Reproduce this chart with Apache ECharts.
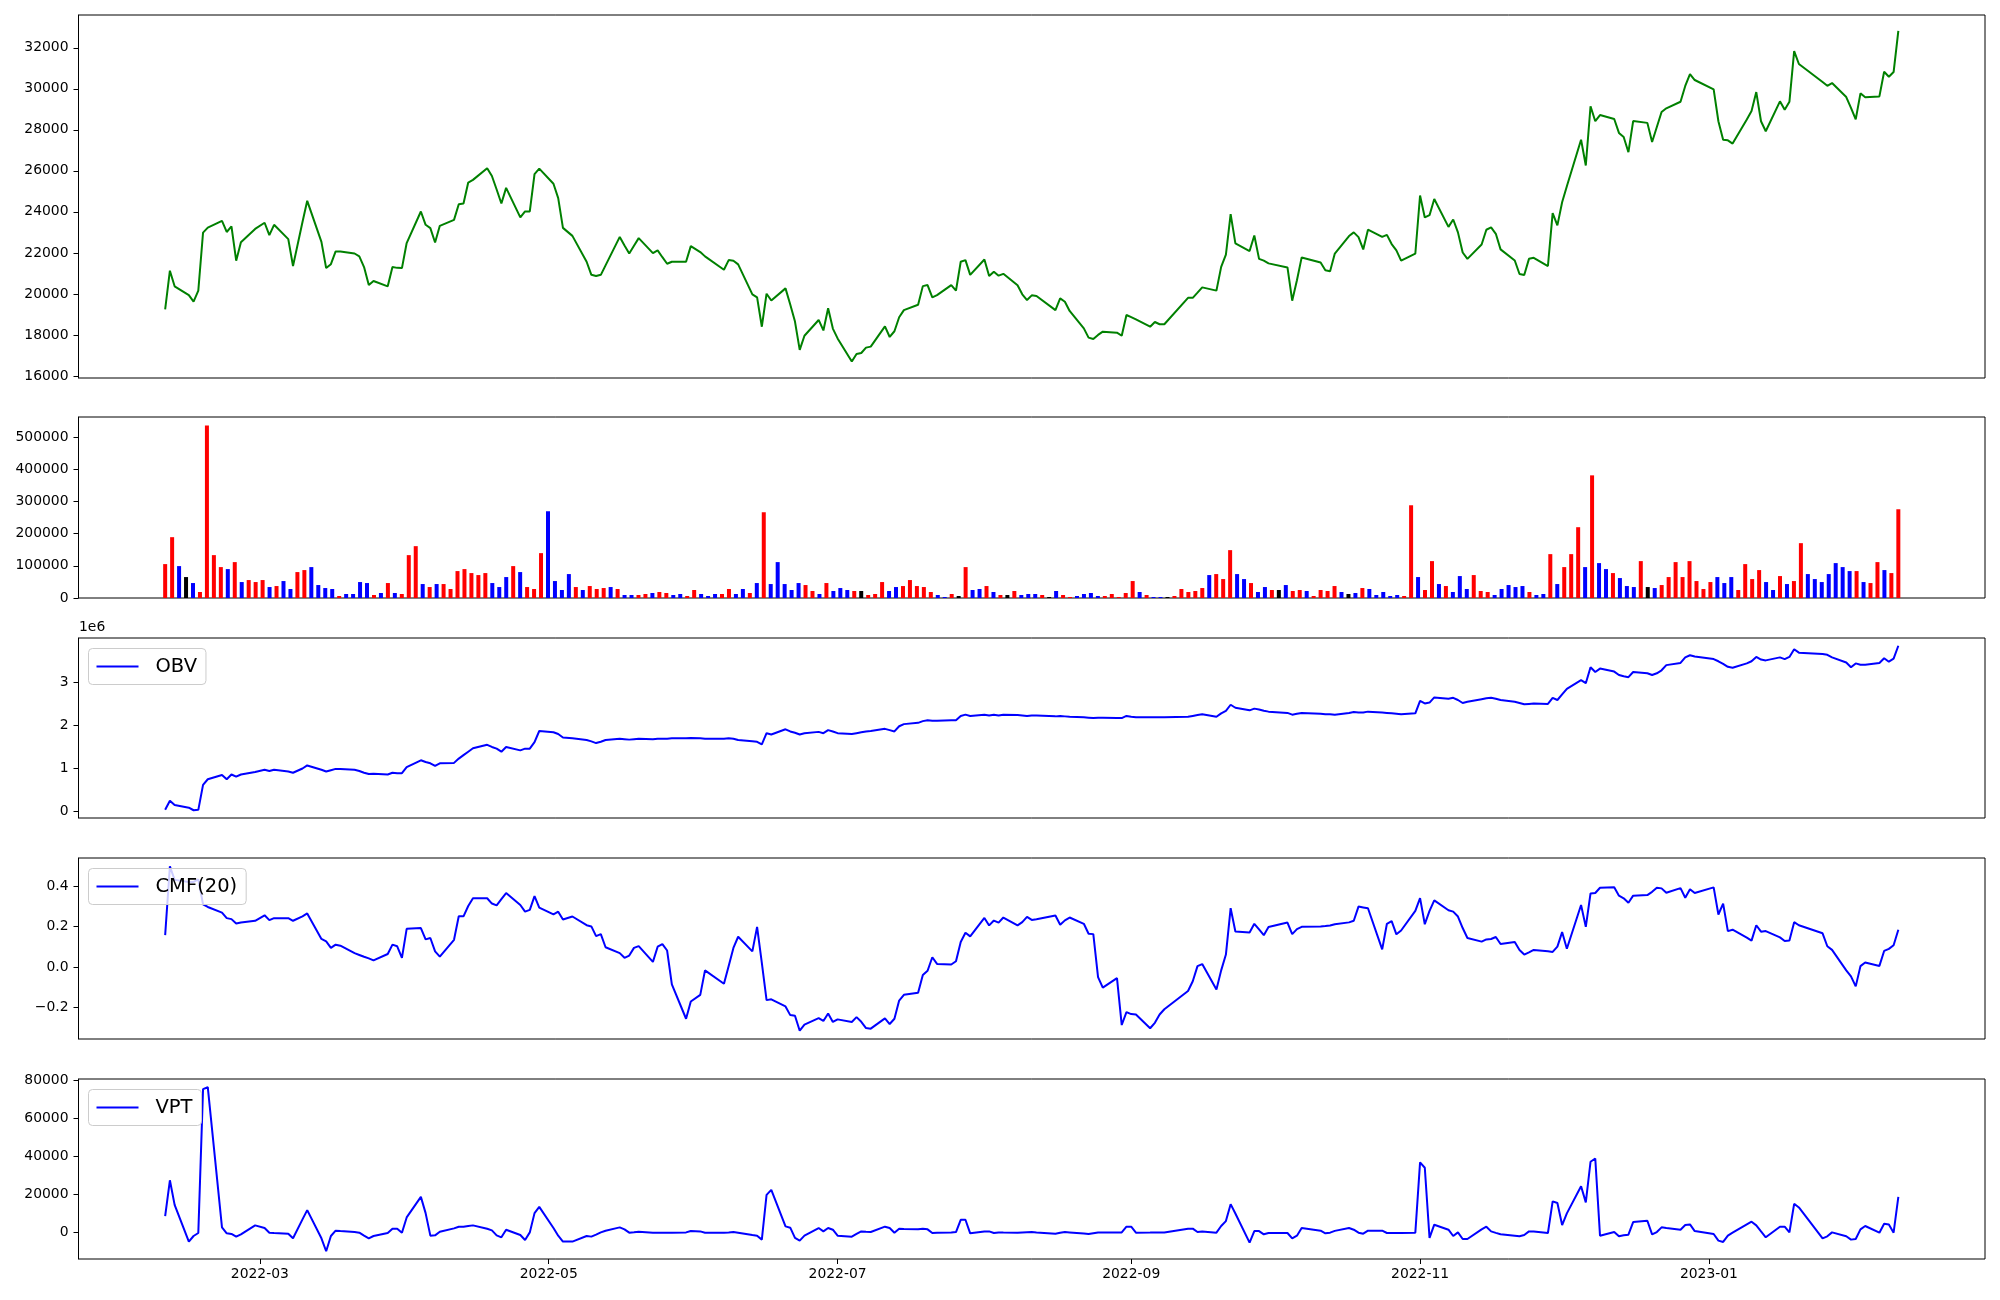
<!DOCTYPE html>
<html><head><meta charset="utf-8">
<script src="https://cdn.jsdelivr.net/npm/echarts@6/dist/echarts.min.js"></script>
<style>html,body{margin:0;padding:0;background:#fff}#c{width:2000px;height:1300px}</style>
</head><body><div id="c"></div>
<script>
// ---------- data ----------
const startDate = '2022-02-09', endDate = '2023-02-10';
const holidays = ['2022-03-01','2022-03-09','2022-05-05','2022-06-01','2022-06-06','2022-08-15',
  '2022-09-09','2022-09-12','2022-10-03','2022-10-10','2022-12-30','2023-01-23','2023-01-24'];

const close = [
19250,21130,20370,19940,19620,20160,22990,23230,23560,23020,
23290,21620,22520,23170,23470,22870,23370,22670,21360,23510,
24540,22540,21260,21450,22070,22070,21970,21830,21310,20430,
20630,20370,21310,21270,21260,22480,24020,23370,23210,22510,
23320,23610,24370,24410,25430,25560,26130,25750,25090,24410,
25170,23730,24020,24020,25840,26110,25370,24670,23220,22830,
21570,20930,20870,20930,21390,22780,22360,21970,22350,22720,
21990,22120,21790,21470,21570,21570,22330,22040,21830,21180,
21650,21620,21440,19980,19830,18400,20010,19680,20270,19480,
18650,17270,17960,18730,18220,19300,18310,17830,16700,17070,
17120,17380,17430,18420,17900,18180,18860,19210,19470,20380,
20430,19830,19940,20430,20160,21570,21650,20930,21680,20870,
21080,20890,20980,20420,19980,19700,19930,19900,19210,19780,
19620,19170,18320,17870,17800,18000,18160,18110,17960,18970,
18870,18760,18400,18630,18520,18520,19810,19810,20060,20320,
20160,21320,21920,23890,22460,22090,22850,21710,21620,21490,
21290,19670,20670,21780,21530,21150,21110,21970,22820,23000,
22770,22170,23130,22780,22880,22430,22120,21620,21960,24800,
23730,23840,24630,23270,23630,23000,22020,21710,22410,23130,
23240,22930,22170,21630,20970,20920,21710,21760,21360,23940,
23340,24470,25250,27520,26260,29150,28420,28720,28530,27850,
27650,26910,28430,28340,27410,28140,28870,29050,29370,30140,
30720,30430,29970,28420,27520,27490,27330,28510,28920,29840,
28420,27930,29390,28980,29370,31840,31210,30330,30150,30280,
29600,29070,28510,29780,29590,29630,30830,30590,30820,32830];

const volume = [
105264,188856,99072,65016,46440,18576,535600,133128,95976,89784,
111456,49536,55728,49536,55728,34056,37152,52632,27864,80496,
86688,95976,40248,30960,27864,6192,12384,12384,49536,46440,
9288,15480,46440,15480,12384,133128,160992,43344,34056,43344,
43344,27864,83592,89784,77400,71208,77400,46440,34056,65016,
99072,80496,34056,27864,139320,269352,52632,24768,74304,34056,
24768,37152,27864,30960,34056,27864,9288,9288,9288,12384,
15480,18576,15480,9288,12384,6192,24768,12384,6192,12384,
12384,27864,12384,27864,15480,46440,266256,43344,111456,43344,
24768,46440,40248,21672,12384,46440,21672,30960,24768,21672,
21672,9288,12384,49536,21672,34056,37152,55728,37152,34056,
18576,9288,3096,12384,6192,95976,24768,27864,37152,18576,
9288,9288,21672,9288,12384,12384,9288,3096,21672,9288,
3096,6192,12384,15480,6192,6192,12384,3096,15480,52632,
18576,9288,3096,3096,3096,6192,27864,18576,21672,30960,
71208,74304,58824,148608,74304,58824,46440,18576,34056,24768,
24768,40248,21672,24768,21672,6192,24768,21672,37152,18576,
12384,15480,30960,27864,9288,18576,6192,9288,6192,287928,
65016,24768,114552,43344,37152,18576,68112,27864,71208,21672,
18576,9288,27864,40248,34056,37152,18576,9288,12384,136224,
43344,95976,136224,219816,95976,380808,108360,89784,77400,61920,
37152,34056,114552,34056,30960,40248,65016,111456,65016,114552,
52632,27864,49536,65016,46440,65016,24768,105264,58824,86688,
49536,24768,68112,43344,52632,170280,74304,58824,49536,74304,
108360,95976,83592,83592,49536,46440,111456,86688,77400,275544];

// bar colour per day: r = red, b = blue, k = black
const volDir = (
'rrbkbrrrrb'+'rbrrrbrbbr'+'rbbbbrbbbb'+'rbrbrrrbrb'+'rrrrrrrbbb'+
'rbrrrbbbbr'+'brrrbrbbrr'+'brrbbrrbbb'+'rrbbrbrbbb'+'bbrrbrbbbr'+
'krrrbbrrrr'+'rbbrkrbbrb'+'rkrbbbrkbr'+'rbbbbrrrrr'+'brbbkrrrrr'+
'brrrbbrbbr'+'kbrrbrrrrb'+'kbrbbbbbrr'+'brrbrbbbrr'+'rbbbbbrbbr'+
'brrrbrbbrb'+'bbrkbrrrrr'+'rrrbbbrrrr'+'bbrbrrbbbb'+'bbbrbrrbrr').split('');

const obv = [
40000,250000,150000,90000,30000,40000,620000,750000,850000,750000,
860000,810000,860000,920000,970000,940000,970000,930000,900000,1000000,
1070000,970000,930000,960000,990000,990000,970000,940000,900000,870000,
880000,860000,900000,890000,890000,1030000,1190000,1150000,1120000,1060000,
1120000,1130000,1230000,1310000,1390000,1470000,1550000,1500000,1460000,1390000,
1500000,1420000,1460000,1460000,1610000,1870000,1840000,1800000,1720000,1700000,
1660000,1630000,1590000,1620000,1660000,1690000,1680000,1670000,1680000,1690000,
1680000,1690000,1690000,1690000,1700000,1700000,1710000,1700000,1690000,1690000,
1700000,1690000,1660000,1630000,1620000,1560000,1820000,1790000,1910000,1860000,
1830000,1790000,1820000,1850000,1820000,1890000,1860000,1820000,1800000,1820000,
1840000,1860000,1870000,1920000,1890000,1860000,1980000,2030000,2060000,2100000,
2120000,2110000,2110000,2120000,2120000,2220000,2250000,2220000,2250000,2230000,
2250000,2230000,2250000,2240000,2230000,2220000,2230000,2230000,2210000,2220000,
2210000,2200000,2190000,2180000,2170000,2180000,2180000,2170000,2170000,2220000,
2200000,2190000,2190000,2190000,2190000,2190000,2200000,2220000,2240000,2260000,
2200000,2280000,2340000,2480000,2410000,2350000,2390000,2370000,2340000,2320000,
2290000,2250000,2270000,2290000,2270000,2260000,2260000,2250000,2290000,2310000,
2300000,2300000,2320000,2300000,2290000,2280000,2270000,2260000,2280000,2570000,
2510000,2530000,2650000,2620000,2640000,2590000,2520000,2550000,2610000,2630000,
2640000,2620000,2590000,2550000,2520000,2490000,2500000,2510000,2500000,2640000,
2590000,2720000,2850000,3050000,2980000,3350000,3240000,3320000,3250000,3170000,
3140000,3120000,3240000,3210000,3170000,3210000,3280000,3400000,3450000,3580000,
3630000,3600000,3540000,3490000,3430000,3360000,3340000,3440000,3490000,3590000,
3530000,3510000,3580000,3540000,3590000,3770000,3690000,3660000,3640000,3580000,
3460000,3350000,3440000,3410000,3410000,3450000,3560000,3480000,3550000,3850000];

const cmf = [
0.157,0.497,0.430,0.420,0.420,0.432,0.309,0.296,0.268,0.241,
0.236,0.214,0.219,0.228,0.255,0.231,0.241,0.241,0.228,0.250,
0.264,0.138,0.126,0.094,0.110,0.105,0.068,0.059,0.050,0.042,
0.032,0.064,0.110,0.102,0.045,0.188,0.192,0.136,0.143,0.077,
0.051,0.134,0.250,0.250,0.301,0.339,0.339,0.313,0.304,0.335,
0.365,0.306,0.273,0.282,0.350,0.293,0.260,0.273,0.234,0.249,
0.206,0.200,0.152,0.162,0.097,0.068,0.045,0.056,0.094,0.103,
0.025,0.100,0.113,0.081,-0.086,-0.256,-0.171,-0.138,-0.017,-0.083,
0.005,0.094,0.149,0.077,0.198,0.020,-0.164,-0.160,-0.195,-0.238,
-0.241,-0.315,-0.285,-0.253,-0.267,-0.230,-0.272,-0.259,-0.272,-0.248,
-0.271,-0.302,-0.305,-0.254,-0.282,-0.256,-0.166,-0.138,-0.128,-0.040,
-0.019,0.048,0.015,0.012,0.028,0.123,0.169,0.151,0.242,0.205,
0.229,0.219,0.244,0.205,0.221,0.247,0.232,0.236,0.254,0.208,
0.230,0.244,0.213,0.164,0.162,-0.050,-0.102,-0.055,-0.287,-0.223,
-0.233,-0.235,-0.303,-0.276,-0.235,-0.209,-0.119,-0.071,0.004,0.014,
-0.112,-0.017,0.061,0.290,0.175,0.170,0.213,0.185,0.157,0.197,
0.219,0.162,0.187,0.198,0.200,0.202,0.205,0.211,0.220,0.228,
0.298,0.294,0.290,0.087,0.213,0.226,0.161,0.180,0.277,0.340,
0.211,0.277,0.329,0.280,0.273,0.249,0.192,0.143,0.125,0.136,
0.138,0.148,0.113,0.123,0.084,0.061,0.072,0.084,0.077,0.074,
0.100,0.172,0.090,0.306,0.198,0.363,0.365,0.391,0.393,0.352,
0.339,0.317,0.352,0.355,0.371,0.391,0.388,0.366,0.389,0.342,
0.384,0.365,0.393,0.259,0.313,0.177,0.184,0.145,0.130,0.206,
0.174,0.177,0.146,0.128,0.130,0.221,0.206,0.166,0.102,0.084,
-0.017,-0.047,-0.096,0.004,0.022,0.005,0.079,0.089,0.107,0.184];

const vpt = [
8570,27400,14500,-4840,-1900,-320,75340,76380,2650,-490,
-840,-2230,-1010,3690,2300,-150,-320,-670,-3110,6830,
11700,-3110,-9910,-1900,890,700,190,-150,-1720,-3110,
-1900,-320,1950,1950,-150,7870,18680,10140,-1720,-1550,
370,2120,3000,3000,3400,3690,1950,1080,-1550,-2590,
1420,-1370,-3980,0,10140,13450,2300,-1720,-4840,-4840,
-1900,-2230,-1190,0,890,2650,1600,-150,100,370,
-150,-150,-150,-150,-150,0,700,520,-150,-150,
0,190,-150,-1370,-1720,-3810,19730,22340,3180,2480,
-2920,-4320,-1720,2300,520,2300,1420,-1720,-2230,-800,
520,350,190,3000,2300,-150,1950,1800,1600,1950,
1600,-320,-200,0,190,6640,6640,-490,520,520,
-320,0,-50,-150,0,100,190,0,-670,-200,
190,0,-600,-840,-400,0,0,0,0,3000,
3000,-150,-50,0,0,0,1950,1950,190,520,
-150,3350,5950,14850,9950,-5370,700,700,-1010,-320,
-320,-3110,-1720,2300,890,-490,-150,800,2300,1420,
-150,-670,890,890,-320,-320,-320,-320,-150,36810,
34020,-2930,4040,1420,-1900,0,-3460,-3460,1600,3000,
520,-250,-1010,-1800,-2060,-1370,520,520,-320,16310,
15440,3860,10000,24260,15790,37160,38900,-1720,190,-2060,
-1550,-1190,5430,6130,-1010,190,2650,2300,1420,3860,
4210,700,-840,-4320,-5020,-1720,-150,4210,5610,3690,
520,-2590,3000,3000,0,15030,13110,-3110,-2060,0,
-2060,-3810,-3460,1600,3350,-150,4570,4210,-150,18680];

const xTickLabels = ['2022-03','2022-05','2022-07','2022-09','2022-11','2023-01'];
const priceTicks = [16000,18000,20000,22000,24000,26000,28000,30000,32000];
const volumeTicks = [0,100000,200000,300000,400000,500000];
const obvTicks = [0,1000000,2000000,3000000];
const cmfTicks = [-0.2,0,0.2,0.4];
const vptTicks = [0,20000,40000,60000,80000];

// ---------- build ----------
const DAY = 86400000;
const dates = [];
for (let t = Date.parse(startDate + 'T00:00:00Z'); t <= Date.parse(endDate + 'T00:00:00Z'); t += DAY) {
  const d = new Date(t), wd = d.getUTCDay();
  if (wd === 0 || wd === 6) continue;
  if (holidays.includes(d.toISOString().slice(0, 10))) continue;
  dates.push(t);
}
const T0 = dates[0], T1 = dates[dates.length - 1];
const xMin = T0 - 0.05 * (T1 - T0), xMax = T1 + 0.05 * (T1 - T0);
const xTicks = xTickLabels.map(s => Date.parse(s + '-01T00:00:00Z'));
// volume bars sit at evenly spaced positions (one per trading session) over the same span
const nLast = dates.length - 1;
const barMin = -0.05 * nLast, barMax = nLast * 1.05;

const FONT = 'DejaVu Sans';
const COLORS = { r: '#ff0000', b: '#0000ff', k: '#000000' };
const pairs = arr => dates.map((t, i) => [t, arr[i]]);

const grids = [
  { top: 15, height: 363 },
  { top: 417, height: 181 },
  { top: 638, height: 180 },
  { top: 858, height: 181 },
  { top: 1079, height: 180 }
].map(g => Object.assign({ left: 78.5, right: 15, show: true, borderColor: '#000', borderWidth: 1, backgroundColor: 'transparent' }, g));

const xAxes = grids.map((g, i) => ({
  type: 'value', gridIndex: i,
  min: i === 1 ? barMin : xMin, max: i === 1 ? barMax : xMax,
  splitLine: { show: false }, axisLine: { show: false, onZero: false },
  axisTick: i === 4 ? { show: true, customValues: xTicks, length: 5, lineStyle: { color: '#000', width: 1 } } : { show: false },
  axisLabel: i === 4 ? {
    show: true, customValues: xTicks, margin: 8, color: '#000', fontSize: 13.9, fontFamily: FONT,
    formatter: v => { const d = new Date(v); return d.getUTCFullYear() + '-' + String(d.getUTCMonth() + 1).padStart(2, '0'); }
  } : { show: false }
}));

function yAxis(i, min, max, ticks, fmt) {
  return {
    type: 'value', gridIndex: i, min: min, max: max,
    splitLine: { show: false },
    axisLine: { show: true, onZero: false, lineStyle: { color: '#000', width: 1 } },
    axisTick: { show: true, customValues: ticks, length: 5, lineStyle: { color: '#000', width: 1 } },
    axisLabel: { show: true, customValues: ticks, margin: 10, color: '#000', fontSize: 13.9, fontFamily: FONT, formatter: fmt }
  };
}
const yAxes = [
  yAxis(0, 15900, 33600, priceTicks, v => String(v)),
  yAxis(1, 0, 562000, volumeTicks, v => String(v)),
  yAxis(2, -150000, 4030000, obvTicks, v => String(Math.round(v / 1e6))),
  yAxis(3, -0.356, 0.538, cmfTicks, v => (v < -1e-9 ? '\u2212' : '') + Math.abs(v).toFixed(1)),
  yAxis(4, -14000, 80700, vptTicks, v => String(v))
];

function legend(name, top) {
  return {
    data: [name], left: 88.5, top: top, orient: 'horizontal', selectedMode: false,
    padding: [7, 9, 7, 8], itemWidth: 42, itemHeight: 2, icon: 'rect',
    backgroundColor: 'rgba(255,255,255,0.8)', borderColor: '#cccccc', borderWidth: 1, borderRadius: 4,
    textStyle: { fontSize: 19.5, fontFamily: FONT, color: '#000', lineHeight: 22, padding: [0, 0, 0, 12] }
  };
}

const lineSeries = (name, xi, data, color) => ({
  name: name, type: 'line', xAxisIndex: xi, yAxisIndex: xi, data: data,
  showSymbol: false, symbol: 'none', color: color,
  lineStyle: { color: color, width: 2 }, emphasis: { disabled: true }
});

const option = {
  animation: false,
  backgroundColor: '#ffffff',
  textStyle: { fontFamily: FONT },
  grid: grids,
  xAxis: xAxes,
  yAxis: yAxes,
  legend: [legend('OBV', 648.5), legend('CMF(20)', 868.5), legend('VPT', 1089.5)],
  graphic: [{ type: 'text', left: 79, top: 620, style: { text: '1e6', fontSize: 13.9, fontFamily: FONT, fill: '#000' } }],
  series: [
    lineSeries('Close', 0, pairs(close), '#008000'),
    {
      name: 'Volume', type: 'bar', xAxisIndex: 1, yAxisIndex: 1, barWidth: 4,
      data: volume.map((v, i) => ({ value: [i, v], itemStyle: { color: COLORS[volDir[i]] } })),
      emphasis: { disabled: true }
    },
    lineSeries('OBV', 2, pairs(obv), '#0000ff'),
    lineSeries('CMF(20)', 3, pairs(cmf), '#0000ff'),
    lineSeries('VPT', 4, pairs(vpt), '#0000ff')
  ]
};
const chart = echarts.init(document.getElementById('c'), null, { renderer: 'canvas' });
chart.setOption(option);
if (dates.length !== close.length) console.error('date count', dates.length, close.length);
</script>
</body></html>
